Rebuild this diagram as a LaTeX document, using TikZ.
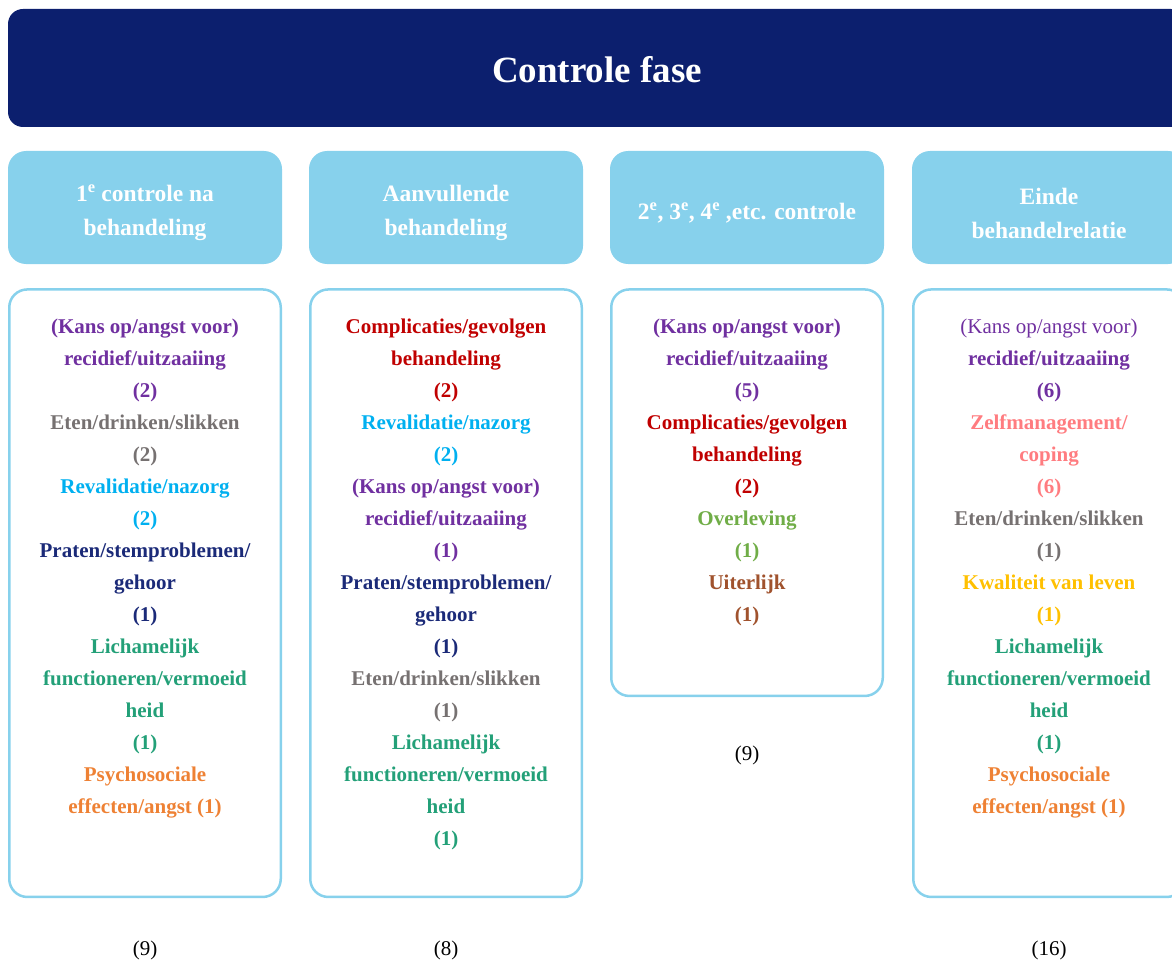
\documentclass[tikz,border=0pt]{standalone}
\usepackage{fontspec}
\setmainfont{Liberation Serif}
\usetikzlibrary{positioning}

\definecolor{barblue}{HTML}{0C1F6E}
\definecolor{headblue}{HTML}{87D1EC}
\definecolor{kpurple}{HTML}{7030A0}
\definecolor{kgrey}{HTML}{767171}
\definecolor{kcyan}{HTML}{00B0F0}
\definecolor{knavy}{HTML}{1B2A78}
\definecolor{kgreen}{HTML}{23A078}
\definecolor{korange}{HTML}{EE8134}
\definecolor{kred}{HTML}{C00000}
\definecolor{klime}{HTML}{70AD47}
\definecolor{kbrown}{HTML}{A0522D}
\definecolor{kpink}{HTML}{FF7C80}
\definecolor{kyellow}{HTML}{FFC000}

\tikzset{
  phase/.style={fill=barblue, rounded corners=15pt, minimum width=1178pt,
    minimum height=118pt, text=white, text height=29pt,
    font=\fontsize{37}{44}\selectfont\bfseries},
  head/.style={fill=headblue, rounded corners=18pt, minimum width=274pt,
    minimum height=113pt},
  headtext/.style={text=white, align=center, inner sep=0pt,
    font=\fontsize{23.5}{34}\selectfont\bfseries},
  panel/.style={draw=headblue, line width=2.5pt, rounded corners=18pt,
    minimum width=271.5pt},
  list/.style={align=center, inner sep=0pt, font=\fontsize{21}{32}\selectfont\bfseries},
  count/.style={inner sep=0pt, font=\fontsize{21}{25}\selectfont}
}

\begin{document}
\begin{tikzpicture}[x=1pt, y=-1pt]
    \useasboundingbox (0,0) rectangle (1172,960);
    \clip (0,0) rectangle (1172,960);

    \node [phase] (title) at (597,68) {Controle fase};

    \node [head] (head1) at (145,207.5) {};
    \node [head] (head2) at (446,207.5) {};
    \node [head] (head3) at (747,207.5) {};
    \node [head] (head4) at (1049,207.5) {};

    \node [headtext] (label1) at ([yshift=-5.5pt]head1.center) {1\textsuperscript{e} controle na\\behandeling};
    \node [headtext] (label2) at ([yshift=-5.5pt]head2.center) {Aanvullende\\behandeling};
    \node [headtext] (label3) at ([yshift=-5.5pt]head3.center)%
       {2\textsuperscript{e}, 3\textsuperscript{e}, 4\textsuperscript{e} ,etc. controle};
    \node [headtext] (label4) at ([yshift=-5.5pt]head4.center) {Einde\\behandelrelatie};

    \node [panel, minimum height=607.5pt, below=24pt of head1] (box1) {};
    \node [panel, minimum height=607.5pt, below=24pt of head2] (box2) {};
    \node [panel, minimum height=406.5pt, below=24pt of head3] (box3) {};
    \node [panel, minimum height=607.5pt, below=24pt of head4] (box4) {};

    \node [list, below=31pt of box1.north] (list1)%
       {\textcolor{kpurple}{(Kans op/angst voor)}\\
        \textcolor{kpurple}{recidief/uitzaaiing}\\
        \textcolor{kpurple}{(2)}\\
        \textcolor{kgrey}{Eten/drinken/slikken}\\
        \textcolor{kgrey}{(2)}\\
        \textcolor{kcyan}{Revalidatie/nazorg}\\
        \textcolor{kcyan}{(2)}\\
        \textcolor{knavy}{Praten/stemproblemen/}\\
        \textcolor{knavy}{gehoor}\\
        \textcolor{knavy}{(1)}\\
        \textcolor{kgreen}{Lichamelijk}\\
        \textcolor{kgreen}{functioneren/vermoeid}\\
        \textcolor{kgreen}{heid}\\
        \textcolor{kgreen}{(1)}\\
        \textcolor{korange}{Psychosociale}\\
        \textcolor{korange}{effecten/angst (1)}};

    \node [list, below=31pt of box2.north] (list2)%
       {\textcolor{kred}{Complicaties/gevolgen}\\
        \textcolor{kred}{behandeling}\\
        \textcolor{kred}{(2)}\\
        \textcolor{kcyan}{Revalidatie/nazorg}\\
        \textcolor{kcyan}{(2)}\\
        \textcolor{kpurple}{(Kans op/angst voor)}\\
        \textcolor{kpurple}{recidief/uitzaaiing}\\
        \textcolor{kpurple}{(1)}\\
        \textcolor{knavy}{Praten/stemproblemen/}\\
        \textcolor{knavy}{gehoor}\\
        \textcolor{knavy}{(1)}\\
        \textcolor{kgrey}{Eten/drinken/slikken}\\
        \textcolor{kgrey}{(1)}\\
        \textcolor{kgreen}{Lichamelijk}\\
        \textcolor{kgreen}{functioneren/vermoeid}\\
        \textcolor{kgreen}{heid}\\
        \textcolor{kgreen}{(1)}};

    \node [list, below=31pt of box3.north] (list3)%
       {\textcolor{kpurple}{(Kans op/angst voor)}\\
        \textcolor{kpurple}{recidief/uitzaaiing}\\
        \textcolor{kpurple}{(5)}\\
        \textcolor{kred}{Complicaties/gevolgen}\\
        \textcolor{kred}{behandeling}\\
        \textcolor{kred}{(2)}\\
        \textcolor{klime}{Overleving}\\
        \textcolor{klime}{(1)}\\
        \textcolor{kbrown}{Uiterlijk}\\
        \textcolor{kbrown}{(1)}};

    \node [list, below=31pt of box4.north] (list4)%
       {\textcolor{kpurple}{\mdseries (Kans op/angst voor)}\\
        \textcolor{kpurple}{recidief/uitzaaiing}\\
        \textcolor{kpurple}{(6)}\\
        \textcolor{kpink}{Zelfmanagement/}\\
        \textcolor{kpink}{coping}\\
        \textcolor{kpink}{(6)}\\
        \textcolor{kgrey}{Eten/drinken/slikken}\\
        \textcolor{kgrey}{(1)}\\
        \textcolor{kyellow}{Kwaliteit van leven}\\
        \textcolor{kyellow}{(1)}\\
        \textcolor{kgreen}{Lichamelijk}\\
        \textcolor{kgreen}{functioneren/vermoeid}\\
        \textcolor{kgreen}{heid}\\
        \textcolor{kgreen}{(1)}\\
        \textcolor{korange}{Psychosociale}\\
        \textcolor{korange}{effecten/angst (1)}};

    \node [count, below=43pt of box1] (count1) {(9)};
    \node [count, below=43pt of box2] (count2) {(8)};
    \node [count, below=49pt of box3] (count3) {(9)};
    \node [count, below=43pt of box4] (count4) {(16)};
\end{tikzpicture}
\end{document}
